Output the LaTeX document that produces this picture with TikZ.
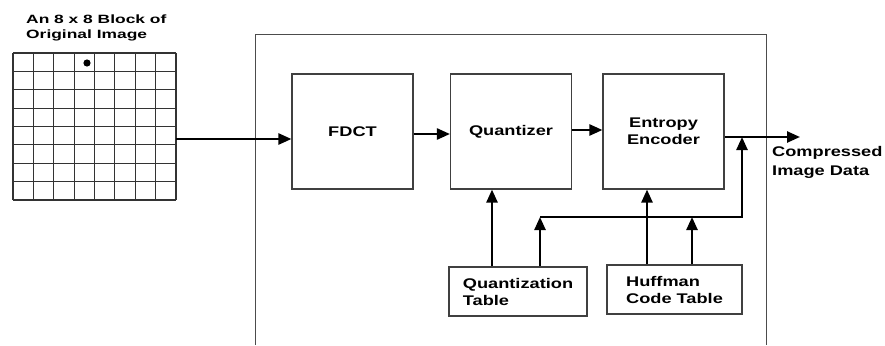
\documentclass[tikz,border=0pt]{standalone}
\usepackage{fontspec}
\newfontfamily\labelfont{Liberation Sans}[FakeStretch=1.3]
\newfontfamily\capfont{Liberation Sans}[FakeStretch=1.45]
\usetikzlibrary{arrows.meta}

\tikzset{
  block/.style={draw=black!75, line width=1.1pt, inner sep=0pt, align=center,
    font=\labelfont\bfseries\fontsize{14}{17}\selectfont},
  flow/.style={line width=2.4pt, -{Triangle[length=13pt,width=11pt]}},
  frame/.style={draw=black!70, line width=1pt},
  gridline/.style={draw=black!80, line width=1.2pt}
}

\begin{document}
\begin{tikzpicture}[x=1pt,y=-1pt]
        \useasboundingbox (0,0) rectangle (885,345);

        %the 8 x 8 block of pixels (base anchor sits on the last line)
        \node[anchor=base west, inner sep=0pt, align=left,
              font=\capfont\bfseries\fontsize{12}{15}\selectfont] (title) at (26,38)
              {An 8 x 8 Block of\\Original Image};
        \foreach \i in {0,...,8} {
            \draw[gridline] (13+20.375*\i,53) -- (13+20.375*\i,200);
            \draw[gridline] (13,53+18.375*\i) -- (176,53+18.375*\i);
        }
        \fill (87,63) circle (3.6);
        \coordinate (pixout) at (176,139);

        %the encoder frame, open at the bottom
        \draw[frame] (255,345) |- (766,35) -- (766,345);

        %processing stages
        \node[block, minimum width=121, minimum height=115] (fdct) at (352.5,131.5) {FDCT};
        \node[block, minimum width=121, minimum height=115] (quant) at (511,131.5) {Quantizer};
        \node[block, minimum width=121, minimum height=115] (ent) at (663.5,131.5) {Entropy\\Encoder};

        %tables
        \node[block, minimum width=138, minimum height=49, align=left] (qtab) at (518,291.5) {Quantization\\Table};
        \node[block, minimum width=135, minimum height=49, align=left] (huff) at (674.5,289.5) {Huffman\\Code Table};

        %output label
        \node[anchor=base west, inner sep=0pt, align=left,
              font=\labelfont\bfseries\fontsize{14}{19}\selectfont] (outtxt) at (772,175.5)
              {Compressed\\Image Data};

        %main data path (yshift points up, y runs down)
        \draw[flow] (pixout) -- (pixout -| fdct.west);
        \draw[flow] ([yshift=-2.5]fdct.east) coordinate (a) -- (a -| quant.west);
        \draw[flow] ([yshift=1.5]quant.east) coordinate (b) -- (b -| ent.west);
        \draw[flow] ([yshift=-5.5]ent.east) coordinate (c) -- (c -| 800,0) coordinate (out);

        %table feeds
        \coordinate (bus) at (540,217);
        \coordinate (tap) at (742,137);
        \draw[flow] ([xshift=-26]qtab.north) coordinate (q1) -- (q1 |- quant.south);
        \draw[flow] ([xshift=22]qtab.north) coordinate (q2) -- (q2 |- bus);
        \draw[flow] ([xshift=-27.5]huff.north) coordinate (h1) -- (h1 |- ent.south);
        \draw[flow] ([xshift=17.5]huff.north) coordinate (h2) -- (h2 |- bus);
        \draw[flow] (bus) -| (tap);
    \end{tikzpicture}
\end{document}
